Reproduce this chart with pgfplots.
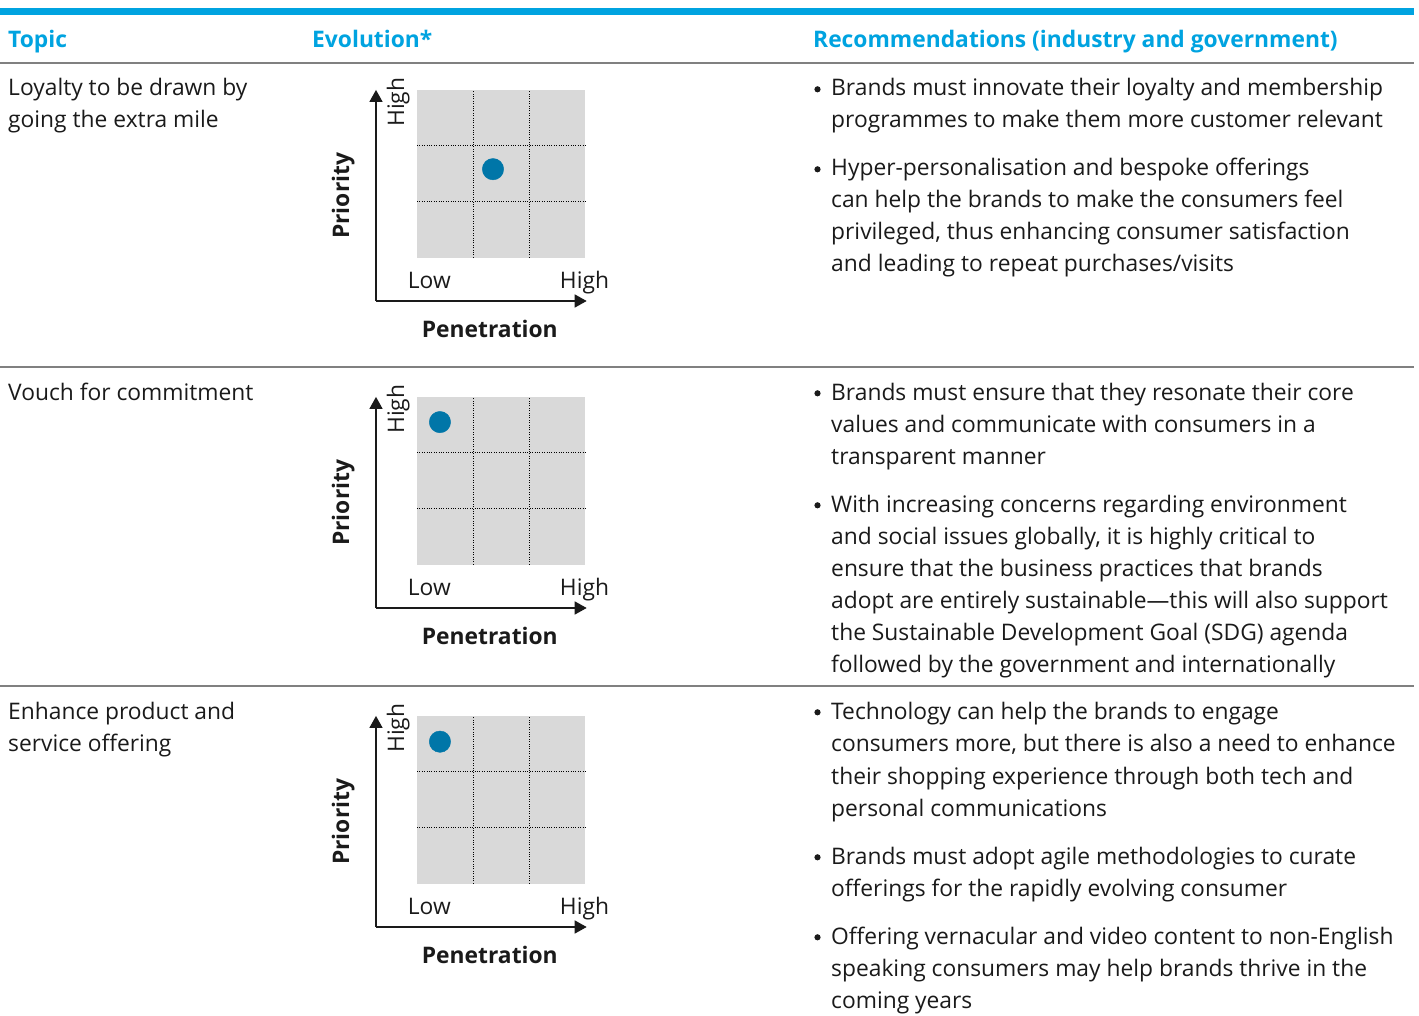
\documentclass[border=0pt]{standalone}
\usepackage{fontspec}
\setmainfont{Open Sans}
\usepackage{pgfplots}
\pgfplotsset{compat=1.18}
\usetikzlibrary{arrows.meta}
\definecolor{hdr}{HTML}{00A3E0}
\definecolor{txt}{HTML}{1A1A1A}
\definecolor{sep}{HTML}{808080}
\definecolor{cell}{HTML}{D9D9D9}
\definecolor{dot}{HTML}{0076A8}
\newcommand{\tl}[3]{\node[anchor=base west, inner sep=0pt, text=txt] at (#1,-#2) {#3};}
\newcommand{\hd}[3]{\node[anchor=base west, inner sep=0pt, text=hdr] at (#1,-#2) {\bfseries #3};}
\newcommand{\bl}[2]{\fill[txt] (817.5,-#1+6.7) circle (3.1);\tl{831}{#1}{#2}}
\newcommand{\mini}[3]{%
\begin{axis}[at={(376pt,-#1pt)}, anchor=south west, scale only axis,
  width=210.7pt, height=211.1pt, xmin=-0.732, xmax=3.03, ymin=-0.77, ymax=3.0,
  axis lines=left, xtick=\empty, ytick=\empty, clip=false,
  axis line style={line width=1.4pt, txt, -{Triangle[width=13pt,length=12pt]}}]
  \fill[cell] (axis cs:0,0) rectangle (axis cs:3,3);
  \draw[line width=0.9pt, dash pattern=on 1pt off 1.4pt, black] (axis cs:1,0) -- (axis cs:1,3);
  \draw[line width=0.9pt, dash pattern=on 1pt off 1.4pt, black] (axis cs:2,0) -- (axis cs:2,3);
  \draw[line width=0.9pt, dash pattern=on 1pt off 1.4pt, black] (axis cs:0,1) -- (axis cs:3.03,1);
  \draw[line width=0.9pt, dash pattern=on 1pt off 1.4pt, black] (axis cs:0,2) -- (axis cs:3.03,2);
  \addplot[only marks, mark=*, mark size=10.7pt, color=dot] coordinates {(#2,#3)};
  \node[anchor=base, inner sep=0pt, text=txt] at (axis cs:0.22,-0.54) {Low};
  \node[anchor=base, inner sep=0pt, text=txt] at (axis cs:2.99,-0.54) {High};
  \node[anchor=base, inner sep=0pt, text=txt, rotate=90] at (axis cs:-0.23,2.78) {High};
  \node[anchor=base, inner sep=0pt, text=txt, rotate=90] at (axis cs:-1.21,1.11) {\bfseries Priority};
  \node[anchor=base, inner sep=0pt, text=txt] at (axis cs:1.30,-1.43) {\bfseries Penetration};
\end{axis}}
\begin{document}
\fontsize{22.8}{32}\selectfont
\begin{tikzpicture}[x=1pt,y=1pt]
\path[use as bounding box] (0,0) rectangle (1419,-1016);
\fill[hdr] (0,-8) rectangle (1414,-15);
\hd{8}{48}{Topic}
\hd{312}{48}{Evolution*}
\hd{813}{48}{Recommendations (industry and government)}
\draw[sep, line width=1.4pt] (0,-63) -- (1414,-63);
\draw[sep, line width=1.4pt] (0,-367) -- (1414,-367);
\draw[sep, line width=1.4pt] (0,-686) -- (1414,-686);
% row 1
\tl{8}{96}{Loyalty to be drawn by}
\tl{8}{128}{going the extra mile}
\bl{96}{Brands must innovate their loyalty and membership}
\tl{831}{128}{programmes to make them more customer relevant}
\bl{176}{Hyper-personalisation and bespoke offerings}
\tl{831}{208}{can help the brands to make the consumers feel}
\tl{831}{240}{privileged, thus enhancing consumer satisfaction}
\tl{831}{272}{and leading to repeat purchases/visits}
% row 2
\tl{8}{400}{Vouch for commitment}
\bl{400}{Brands must ensure that they resonate their core}
\tl{831}{432}{values and communicate with consumers in a}
\tl{831}{464}{transparent manner}
\bl{512}{With increasing concerns regarding environment}
\tl{831}{544}{and social issues globally, it is highly critical to}
\tl{831}{576}{ensure that the business practices that brands}
\tl{831}{608}{adopt are entirely sustainable—this will also support}
\tl{831}{640}{the Sustainable Development Goal (SDG) agenda}
\tl{831}{672}{followed by the government and internationally}
% row 3
\tl{8}{719}{Enhance product and}
\tl{8}{751}{service offering}
\bl{719}{Technology can help the brands to engage}
\tl{831}{751}{consumers more, but there is also a need to enhance}
\tl{831}{784}{their shopping experience through both tech and}
\tl{831}{816}{personal communications}
\bl{864}{Brands must adopt agile methodologies to curate}
\tl{831}{896}{offerings for the rapidly evolving consumer}
\bl{944}{Offering vernacular and video content to non-English}
\tl{831}{976}{speaking consumers may help brands thrive in the}
\tl{831}{1008}{coming years}
% mini charts
\mini{301}{1.357}{1.584}
\mini{608}{0.41}{2.55}
\mini{927}{0.41}{2.54}
\end{tikzpicture}
\end{document}
